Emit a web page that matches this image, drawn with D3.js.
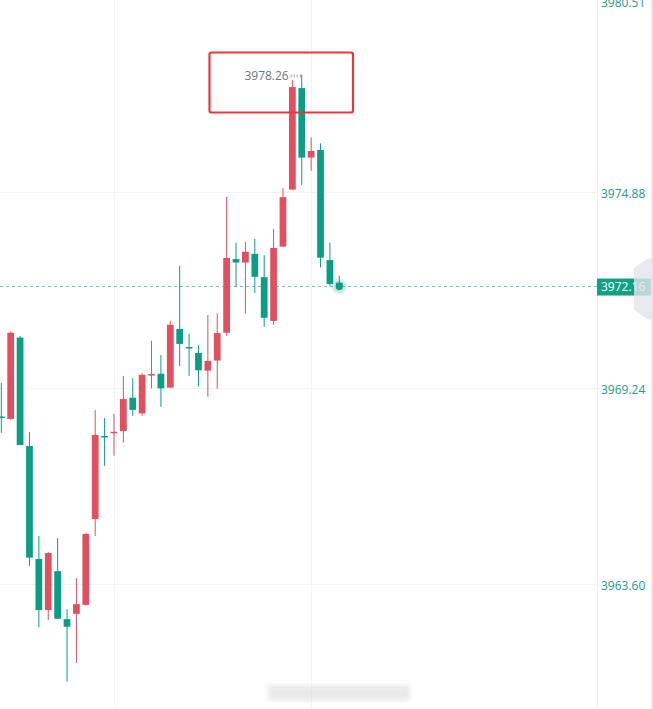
<!DOCTYPE html>
<html>
<head>
<meta charset="utf-8">
<script src="https://cdn.jsdelivr.net/npm/d3@7"></script>
<style>
  html, body { margin: 0; padding: 0; background: #fff; overflow: hidden; }
  svg { display: block; font-family: "Open Sans", "Noto Sans", sans-serif; }
</style>
</head>
<body>
<svg id="chart"></svg>
<script>
// candle data (oldest first)
const opens = [3968.42, 3968.35, 3970.69, 3967.57, 3964.32, 3962.85, 3963.97, 3962.59, 3962.74, 3963.00,
  3965.47, 3967.86, 3967.95, 3968.00, 3968.96, 3968.51, 3969.62, 3969.65, 3969.25, 3970.94,
  3970.42, 3970.25, 3969.74, 3970.03, 3970.83, 3972.95, 3972.85, 3973.10, 3972.43, 3971.17,
  3973.31, 3974.95, 3977.87, 3975.87, 3976.09, 3972.92, 3972.27];
const highs = [3969.39, 3970.86, 3970.74, 3967.97, 3964.98, 3964.52, 3964.92, 3962.88, 3963.77, 3965.06,
  3968.61, 3968.38, 3968.49, 3969.59, 3969.52, 3969.66, 3970.60, 3970.19, 3971.18, 3972.76,
  3970.81, 3970.47, 3971.34, 3971.39, 3974.74, 3973.42, 3973.44, 3973.53, 3973.06, 3973.82,
  3975.00, 3978.10, 3978.26, 3976.45, 3976.28, 3973.42, 3972.47];
const lows = [3967.95, 3968.33, 3967.60, 3964.12, 3962.36, 3962.56, 3962.60, 3960.79, 3961.33, 3962.98,
  3964.98, 3967.00, 3967.29, 3967.67, 3968.44, 3968.44, 3969.23, 3968.70, 3969.25, 3969.87,
  3969.59, 3969.28, 3968.99, 3969.22, 3970.74, 3972.15, 3971.38, 3971.97, 3971.00, 3971.06,
  3973.30, 3974.94, 3975.08, 3975.49, 3972.71, 3972.17, 3972.14];
const closes = [3968.40, 3970.83, 3967.60, 3964.36, 3962.85, 3964.49, 3962.60, 3962.37, 3963.02, 3965.04,
  3967.89, 3967.84, 3967.98, 3968.92, 3968.61, 3969.62, 3969.64, 3969.23, 3971.06, 3970.51,
  3970.40, 3969.75, 3970.02, 3970.82, 3972.98, 3972.85, 3973.16, 3972.44, 3971.26, 3973.27,
  3974.73, 3977.90, 3975.87, 3976.06, 3972.99, 3972.23, 3972.16];

const priceTicks = [3980.51, 3974.88, 3969.24, 3963.60];
const timeGridIdx = [12, 33];   // vertical grid lines (time labels are cut off)
const highLabel = 32;           // candle carrying the max price label

const width = 653, height = 709;
const axisX = 597;
const upColor = '#e0505e', downColor = '#0c9e84', axisText = '#239b87';

const data = opens.map((o, i) => ({ i, o, h: highs[i], l: lows[i], c: closes[i] }));

const svg = d3.select('#chart').attr('width', width).attr('height', height);

const x = d3.scaleLinear().domain([0, data.length - 1]).range([1.3, 339.3]);
const y = d3.scaleLinear().domain([3963.60, 3974.88]).range([584, 192]);
const bodyW = (x(1) - x(0)) * 0.72;

// grid
svg.append('g').selectAll('line').data(priceTicks.filter(t => y(t) > 0)).enter().append('line')
  .attr('x1', 0).attr('x2', axisX)
  .attr('y1', d => Math.round(y(d)) + 0.5).attr('y2', d => Math.round(y(d)) + 0.5)
  .attr('stroke', '#f2f3f5');
svg.append('g').selectAll('line').data(timeGridIdx).enter().append('line')
  .attr('x1', d => Math.round(x(d)) + 0.5).attr('x2', d => Math.round(x(d)) + 0.5)
  .attr('y1', 0).attr('y2', height)
  .attr('stroke', '#f2f3f5');

// current price dashed line
const last = closes[closes.length - 1];
svg.append('line')
  .attr('x1', 0).attr('x2', axisX).attr('y1', y(last)).attr('y2', y(last))
  .attr('stroke', downColor).attr('stroke-opacity', 0.6)
  .attr('stroke-dasharray', '3,3');

// candles
const candles = svg.append('g').selectAll('g').data(data).enter().append('g')
  .attr('fill', d => d.c > d.o ? upColor : downColor);
candles.append('rect')
  .attr('x', d => x(d.i) - 0.5).attr('width', 1)
  .attr('y', d => y(d.h)).attr('height', d => y(d.l) - y(d.h));
candles.append('rect')
  .attr('x', d => x(d.i) - bodyW / 2).attr('width', bodyW)
  .attr('y', d => y(Math.max(d.o, d.c)))
  .attr('height', d => Math.max(1.5, Math.abs(y(d.o) - y(d.c))));

// max price label
const hd = data[highLabel];
svg.append('line')
  .attr('x1', x(hd.i) - 11).attr('x2', x(hd.i) - 1)
  .attr('y1', y(hd.h) + 1.5).attr('y2', y(hd.h) + 1.5)
  .attr('stroke', '#9aa0aa').attr('stroke-width', 3).attr('stroke-dasharray', '1,2');
svg.append('text')
  .attr('x', x(hd.i) - 13).attr('y', y(hd.h) + 2)
  .attr('text-anchor', 'end').attr('dominant-baseline', 'middle')
  .attr('font-size', 12).attr('fill', '#6f7682')
  .text(hd.h.toFixed(2));

// red highlight box
svg.append('rect')
  .attr('x', 209.5).attr('y', 52.5).attr('width', 143.5).attr('height', 60)
  .attr('rx', 2).attr('fill', 'none')
  .attr('stroke', '#e8383d').attr('stroke-width', 2.2);

// glowing dot on the last candle
const glow = svg.append('defs').append('radialGradient').attr('id', 'glow');
glow.append('stop').attr('offset', '0%').attr('stop-color', downColor).attr('stop-opacity', 0.55);
glow.append('stop').attr('offset', '100%').attr('stop-color', downColor).attr('stop-opacity', 0);
svg.append('circle').attr('cx', x(data.length - 1)).attr('cy', y(last)).attr('r', 9).attr('fill', 'url(#glow)');
svg.append('circle').attr('cx', x(data.length - 1)).attr('cy', y(last)).attr('r', 3.5).attr('fill', downColor);

// right price axis
svg.append('rect').attr('x', axisX).attr('y', 0).attr('width', width - axisX).attr('height', height).attr('fill', '#fff');
svg.append('line').attr('x1', axisX + 0.5).attr('x2', axisX + 0.5).attr('y1', 0).attr('y2', height).attr('stroke', '#eef0f3');
svg.append('rect').attr('x', 651).attr('y', 0).attr('width', 2).attr('height', height).attr('fill', '#e6e8ec');

svg.append('g').selectAll('text').data(priceTicks).enter().append('text')
  .attr('x', axisX + 4).attr('y', d => Math.max(y(d) + 3, 4))
  .attr('dominant-baseline', 'middle')
  .attr('font-size', 12).attr('fill', axisText)
  .text(d => d.toFixed(2));

svg.append('rect')
  .attr('x', axisX).attr('y', y(last) - 8).attr('width', 54).attr('height', 17)
  .attr('fill', '#10a085');
svg.append('text')
  .attr('x', axisX + 4).attr('y', y(last) + 1)
  .attr('dominant-baseline', 'middle')
  .attr('font-size', 12).attr('fill', '#fff')
  .text(last.toFixed(2));

// scroll handle on the right edge
svg.append('path')
  .attr('d', 'M653,258 L647,259 L634,268 L634,310 L647,319 L653,320 Z')
  .attr('fill', '#e3e5eb').attr('fill-opacity', 0.8);

// blurred watermark at the bottom
const blur = svg.select('defs').append('filter').attr('id', 'blur');
blur.append('feGaussianBlur').attr('stdDeviation', 2.5);
svg.append('rect').attr('x', 268).attr('y', 685).attr('width', 142).attr('height', 16)
  .attr('fill', '#d8d8d8').attr('opacity', 0.55).attr('filter', 'url(#blur)');
</script>
</body>
</html>
